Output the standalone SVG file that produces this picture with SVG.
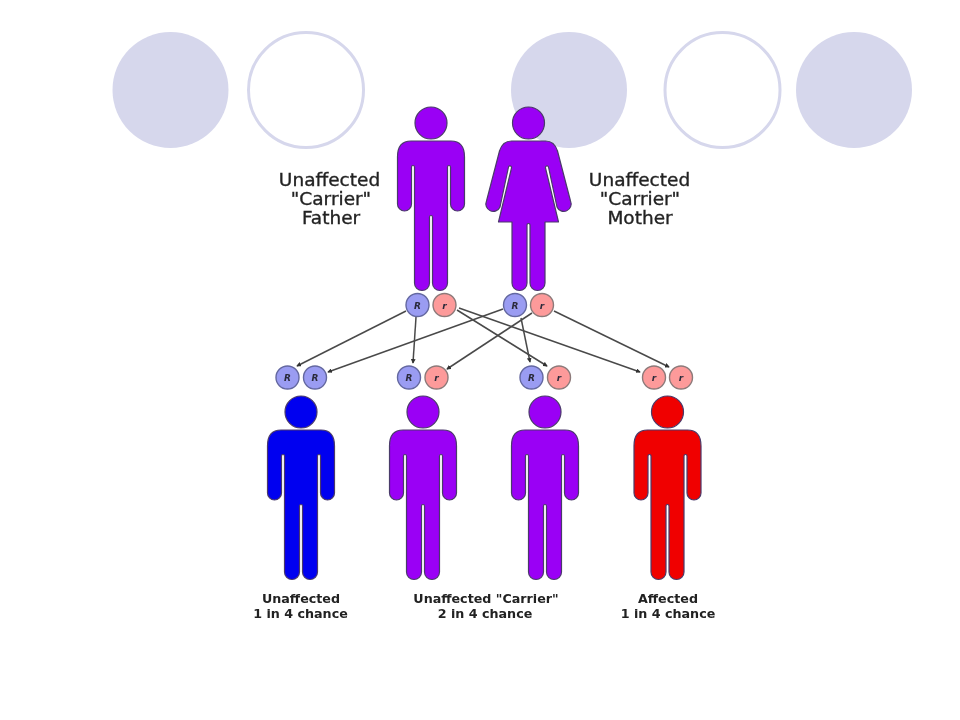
<svg xmlns="http://www.w3.org/2000/svg" xmlns:xlink="http://www.w3.org/1999/xlink" width="960" height="720" viewBox="0 0 960 720">
<style>
.bgf{fill:#d6d7ec}
.bgo{fill:#fff;stroke:#d6d7ec;stroke-width:3}
.fig{stroke:#4a3a6a;stroke-width:1.2;stroke-linejoin:round}
.pur{fill:#9a00f5}.blu{fill:#0000f0}.red{fill:#f00000}
.al{stroke-width:1.4}
.R{fill:#9a9cf2;stroke:#6468a0}
.r{fill:#fd9a9a;stroke:#8c7a7a}
.at{font-family:"DejaVu Sans",sans-serif;font-size:9px;font-weight:bold;font-style:italic;fill:#2a2a3a;text-anchor:middle}
.big{font-family:"DejaVu Sans",sans-serif;font-size:18.5px;fill:#222;stroke:#222;stroke-width:.35;text-anchor:middle}
.small{font-family:"DejaVu Sans",sans-serif;font-size:12.7px;font-weight:bold;fill:#222;text-anchor:middle}
.cn{stroke:#4a4a4a;stroke-width:1.5;fill:none;marker-end:url(#dot)}
</style>
<defs>
<marker id="dot" viewBox="0 0 6 6" refX="5" refY="3" markerWidth="3.2" markerHeight="3.2" orient="auto"><path d="M0,0L6,3L0,6Z" fill="#333"/></marker>
<filter id="soft" x="-5%" y="-5%" width="110%" height="110%"><feGaussianBlur stdDeviation="0.45"/></filter>
<g id="male">
<circle cx="0" cy="0" r="16"/>
<path d="M-20,18H20Q33.5,18 33.5,34V81A7,7 0 0 1 19.500,81V44A1.500,1.500 0 0 0 16.500,44V160A7.500,7.500 0 0 1 1.500,160V94A1.500,1.500 0 0 0 -1.500,94V160A7.500,7.500 0 0 1 -16.500,160V44A1.500,1.500 0 0 0 -19.500,44V81A7,7 0 0 1 -33.500,81V34Q-33.500,18 -20,18Z"/>
</g>
<g id="female">
<circle cx="0" cy="0" r="16"/>
<path d="M-17,18H17Q26,18 29,28L42,78A7.300,7.300 0 0 1 28.500,84L20,44A1.500,1.500 0 0 0 17,45L30,99H16.500V160A7.500,7.500 0 0 1 1.500,160V102A1.500,1.500 0 0 0 -1.500,102V160A7.500,7.500 0 0 1 -16.500,160V99H-30L-17,45A1.500,1.500 0 0 0 -20,44L-28.500,84A7.300,7.300 0 0 1 -42,78L-29,28Q-26,18 -17,18Z"/>
</g>
</defs>
<rect width="960" height="720" fill="#fff"/>
<g id="background">
<circle class="bgf" cx="170.500" cy="90" r="58"/>
<circle class="bgo" cx="306" cy="90" r="57.500"/>
<circle class="bgf" cx="569" cy="90" r="58"/>
<circle class="bgo" cx="722.500" cy="90" r="57.500"/>
<circle class="bgf" cx="854" cy="90" r="58"/>
</g>
<g filter="url(#soft)">
<g id="connectors">
<path class="cn" d="M406,311L297,366"/>
<path class="cn" d="M416,317L413,363"/>
<path class="cn" d="M457,310L547,366"/>
<path class="cn" d="M459,308L640,372"/>
<path class="cn" d="M503,309L328,372"/>
<path class="cn" d="M521,318L530,362"/>
<path class="cn" d="M532,313L447,369"/>
<path class="cn" d="M554,311L669,367"/>
</g>
<g id="father"><use href="#male" x="431" y="123" class="fig pur"/>
<text class="big"><tspan x="329.500" y="186">Unaffected</tspan><tspan x="331" y="205">"Carrier"</tspan><tspan x="331" y="224">Father</tspan></text></g>
<g id="mother"><use href="#female" x="528.500" y="123" class="fig pur"/>
<text class="big"><tspan x="639.500" y="186">Unaffected</tspan><tspan x="640" y="205">"Carrier"</tspan><tspan x="640" y="224">Mother</tspan></text></g>
<g id="alleles-father">
<circle class="al R" cx="417.500" cy="305" r="11.500"/><text class="at" x="417.500" y="308.500">R</text>
<circle class="al r" cx="444.500" cy="305" r="11.500"/><text class="at" x="444.500" y="308.500">r</text></g>
<g id="alleles-mother">
<circle class="al R" cx="515" cy="305" r="11.500"/><text class="at" x="515" y="308.500">R</text>
<circle class="al r" cx="542" cy="305" r="11.500"/><text class="at" x="542" y="308.500">r</text></g>
<g id="child-1"><circle class="al R" cx="287.500" cy="377.500" r="11.500"/><text class="at" x="287.500" y="381">R</text>
<circle class="al R" cx="315" cy="377.500" r="11.500"/><text class="at" x="315" y="381">R</text>
<use href="#male" x="301" y="412" class="fig blu"/>
<text class="small"><tspan x="301" y="603">Unaffected</tspan><tspan x="300.500" y="618">1 in 4 chance</tspan></text></g>
<g id="child-2"><circle class="al R" cx="409" cy="377.500" r="11.500"/><text class="at" x="409" y="381">R</text>
<circle class="al r" cx="436.500" cy="377.500" r="11.500"/><text class="at" x="436.500" y="381">r</text>
<use href="#male" x="423" y="412" class="fig pur"/>
<text class="small"><tspan x="486" y="603">Unaffected "Carrier"</tspan><tspan x="485" y="618">2 in 4 chance</tspan></text></g>
<g id="child-3"><circle class="al R" cx="531.500" cy="377.500" r="11.500"/><text class="at" x="531.500" y="381">R</text>
<circle class="al r" cx="559" cy="377.500" r="11.500"/><text class="at" x="559" y="381">r</text>
<use href="#male" x="545" y="412" class="fig pur"/></g>
<g id="child-4"><circle class="al r" cx="654" cy="377.500" r="11.500"/><text class="at" x="654" y="381">r</text>
<circle class="al r" cx="681" cy="377.500" r="11.500"/><text class="at" x="681" y="381">r</text>
<use href="#male" x="667.500" y="412" class="fig red"/>
<text class="small"><tspan x="668" y="603">Affected</tspan><tspan x="668" y="618">1 in 4 chance</tspan></text></g>
</g>
</svg>
